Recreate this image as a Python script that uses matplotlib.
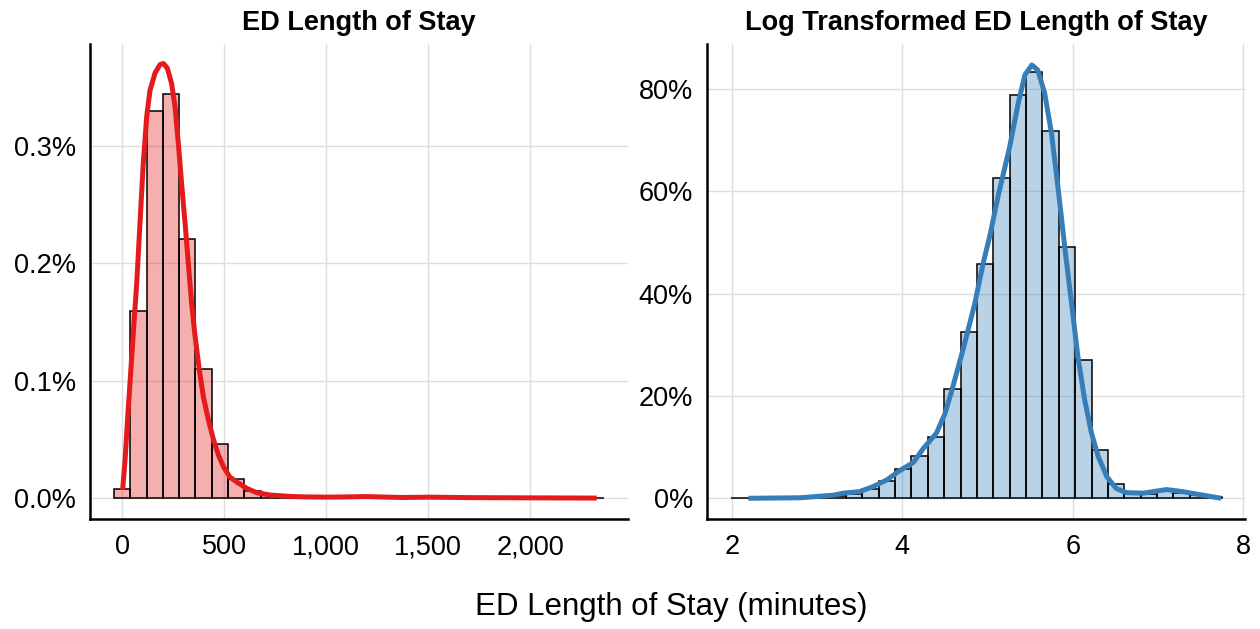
import numpy as np
import matplotlib
matplotlib.use('Agg')
from matplotlib import pyplot as plt
from matplotlib.ticker import FuncFormatter

plt.rcParams['font.family'] = ['Liberation Sans', 'DejaVu Sans']

##################
# ED length of stay (minutes): histogram, 30 bins of 80 min, density in %
los_bin_start = -40
los_bin_width = 80
los_hist = [0.0082, 0.159, 0.330, 0.344, 0.221, 0.110, 0.0465, 0.0167, 0.0065, 0.003,
            0.0015, 0.0012, 0.0010, 0.0010, 0.0009, 0.0010, 0.0008, 0.0007, 0.0006, 0.0006,
            0.0005, 0.0005, 0.0004, 0.0004, 0.0003, 0.0003, 0.0003, 0.0002, 0.0002, 0.0002]

# density curve
los_x = [3, 15, 26, 39, 55, 72, 88, 104, 121, 137, 162, 186, 203, 222, 243, 260, 276, 292,
         309, 325, 341, 358, 379, 399, 423, 448, 472, 497, 529, 570, 611, 660, 725, 824,
         900, 1000, 1100, 1200, 1300, 1380, 1500, 1700, 2000, 2327]
los_y = [0.0071, 0.033, 0.064, 0.098, 0.140, 0.183, 0.234, 0.285, 0.325, 0.347, 0.362, 0.369,
         0.370, 0.366, 0.353, 0.333, 0.302, 0.268, 0.234, 0.200, 0.166, 0.138, 0.109, 0.086,
         0.067, 0.050, 0.037, 0.027, 0.018, 0.013, 0.0085, 0.0048, 0.0028, 0.0016,
         0.0012, 0.0010, 0.0012, 0.0015, 0.0010, 0.0007, 0.0010, 0.0006, 0.0004, 0.0002]

##################
# log transformed length of stay
log_bin_start = 1.996
log_bin_width = 0.192
log_hist = [0.02, 0.03, 0.05, 0.08, 0.15, 0.25, 0.45, 0.84, 1.8, 3.4,
            5.8, 8.3, 12.0, 21.3, 32.5, 45.8, 62.6, 78.9, 83.4, 71.8,
            49.1, 27.1, 9.4, 2.7, 1.0, 0.9, 1.5, 1.0, 0.6, 0.3]

log_x = [2.195, 2.80, 3.19, 3.31, 3.50, 3.66, 3.82, 3.97, 4.13, 4.25, 4.40, 4.50, 4.58,
         4.72, 4.85, 4.95, 5.03, 5.13, 5.26, 5.36, 5.44, 5.52, 5.59, 5.67, 5.75, 5.83,
         5.91, 5.99, 6.06, 6.14, 6.22, 6.30, 6.40, 6.51, 6.63, 6.83, 6.98, 7.10, 7.29,
         7.53, 7.74]
log_y = [0.0, 0.1, 0.6, 1.0, 1.3, 2.3, 3.6, 5.4, 7.0, 9.8, 12.7, 16.5, 21.0,
         29.5, 38.0, 46.0, 51.5, 59.5, 68.7, 77.2, 82.8, 84.7, 83.7, 79.2, 71.4, 60.3,
         48.5, 37.5, 27.7, 19.2, 12.7, 8.1, 4.2, 1.9, 1.1, 1.0, 1.4, 1.7, 1.3,
         0.6, 0.0]

red = '#E41A1C'
blue = '#377EB8'

fig = plt.figure(figsize=(12.6, 6.29), dpi=100)
ax1 = fig.add_axes([90/1260, 1-519/629, 538/1260, 475/629])
ax2 = fig.add_axes([707/1260, 1-519/629, 538/1260, 475/629])


def style(ax):
    ax.grid(True, color='#DEDEDE', linewidth=1.0)
    ax.set_axisbelow(True)
    for s in ['top', 'right']:
        ax.spines[s].set_visible(False)
    for s in ['left', 'bottom']:
        ax.spines[s].set_linewidth(1.8)
        ax.spines[s].set_color('black')
    ax.tick_params(length=0, labelsize=19.5, colors='black')
    ax.tick_params(axis='x', pad=11)
    ax.tick_params(axis='y', pad=10)


# left panel
edges1 = los_bin_start + los_bin_width*np.arange(len(los_hist))
ax1.bar(edges1, los_hist, width=los_bin_width, align='edge',
        facecolor=red, alpha=0.35, edgecolor='none')
ax1.bar(edges1, los_hist, width=los_bin_width, align='edge',
        facecolor='none', edgecolor='black', linewidth=1.1)
ax1.plot(los_x, los_y, color=red, linewidth=3.6, solid_capstyle='butt')
ax1.set_xlim(-157, 2480)
ax1.set_ylim(-0.0176, 0.3866)
ax1.set_xticks([0, 500, 1000, 1500, 2000])
ax1.set_yticks([0, 0.1, 0.2, 0.3])
ax1.xaxis.set_major_formatter(FuncFormatter(lambda v, p: f'{v:,.0f}'))
ax1.yaxis.set_major_formatter(FuncFormatter(lambda v, p: f'{v:.1f}%'))
style(ax1)
ax1.set_title('ED Length of Stay', fontsize=19.5, fontweight='bold', pad=10)

# right panel
edges2 = log_bin_start + log_bin_width*np.arange(len(log_hist))
ax2.bar(edges2, log_hist, width=log_bin_width, align='edge',
        facecolor=blue, alpha=0.35, edgecolor='none')
ax2.bar(edges2, log_hist, width=log_bin_width, align='edge',
        facecolor='none', edgecolor='black', linewidth=1.1)
ax2.plot(log_x, log_y, color=blue, linewidth=3.6, solid_capstyle='butt')
ax2.set_xlim(1.71, 8.02)
ax2.set_ylim(-4.05, 88.8)
ax2.set_xticks([2, 4, 6, 8])
ax2.set_yticks([0, 20, 40, 60, 80])
ax2.yaxis.set_major_formatter(FuncFormatter(lambda v, p: f'{v:.0f}%'))
style(ax2)
ax2.set_title('Log Transformed ED Length of Stay', fontsize=19.5, fontweight='bold', pad=10)

fig.text(671/1260, 1-607/629, 'ED Length of Stay (minutes)', fontsize=22.5,
         ha='center', va='center')

fig.savefig('out.png', dpi=100)
